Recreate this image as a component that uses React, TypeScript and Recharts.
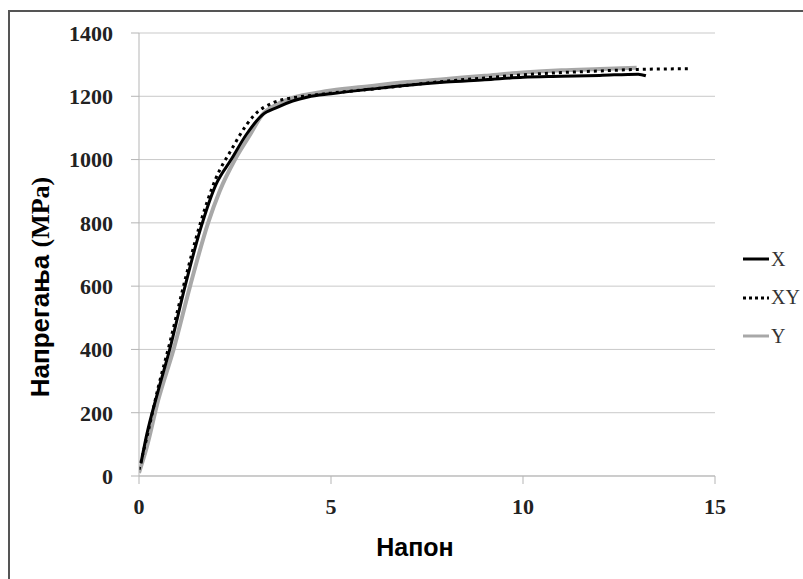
import React from "react";
import {
  LineChart,
  Line,
  XAxis,
  YAxis,
  CartesianGrid
} from "recharts";

// strain (x) / stress in MPa (y)
const xStrain = [0.05, 0.2, 0.5, 0.8, 1.2, 1.6, 2.0, 2.4, 2.8, 3.2, 3.6, 4.0, 4.4, 5, 6, 7, 8, 9, 10, 11, 12, 13, 13.2];
const xStress = [40, 130, 270, 400, 600, 780, 920, 1000, 1080, 1140, 1165, 1185, 1198, 1208, 1222, 1235, 1245, 1252, 1260, 1263, 1266, 1270, 1265];

const xyStrain = [0, 0.2, 0.5, 0.8, 1.2, 1.6, 2.0, 2.4, 2.8, 3.0, 3.5, 4.0, 4.5, 5, 6, 7, 8, 9, 10, 11, 12, 13, 14.3];
const xyStress = [20, 120, 280, 420, 620, 800, 940, 1030, 1110, 1140, 1180, 1195, 1203, 1210, 1222, 1235, 1248, 1258, 1268, 1275, 1280, 1285, 1287];

const yStrain = [0, 0.2, 0.5, 0.9, 1.33, 1.8, 2.1, 2.5, 2.9, 3.2, 3.6, 4.0, 4.5, 5, 6, 7, 8, 9, 10, 11, 12, 12.96];
const yStress = [10, 90, 240, 400, 600, 800, 900, 1000, 1080, 1140, 1175, 1195, 1208, 1218, 1232, 1245, 1255, 1265, 1275, 1282, 1286, 1290];

const xTicks = [0, 5, 10, 15];
const yTicks = [0, 200, 400, 600, 800, 1000, 1200, 1400];

const toPoints = (s: number[], v: number[]) => s.map((e, i) => ({ e, v: v[i] }));

const seriesX = toPoints(xStrain, xStress);
const seriesXY = toPoints(xyStrain, xyStress);
const seriesY = toPoints(yStrain, yStress);

const legendItems = [
  { name: "X", color: "#000", dash: undefined },
  { name: "XY", color: "#000", dash: "3 3" },
  { name: "Y", color: "#a8a8a8", dash: undefined }
];

const tickStyle = { fontFamily: "'Liberation Serif', serif", fontSize: 22, fontWeight: "bold", fill: "#222" };

function LegendBox() {
  return (
    <div
      style={{
        position: "absolute",
        left: 742,
        top: 240,
        fontFamily: "'Liberation Serif', serif",
        fontSize: 20,
        color: "#333"
      }}
    >
      {legendItems.map((it) => (
        <div key={it.name} style={{ display: "flex", alignItems: "center", height: 38.5 }}>
          <svg width={28} height={10}>
            <line x1={1} y1={5} x2={27} y2={5} stroke={it.color} strokeWidth={3} strokeDasharray={it.dash} />
          </svg>
          <span style={{ marginLeft: 1 }}>{it.name}</span>
        </div>
      ))}
    </div>
  );
}

function YTitle() {
  return (
    <text
      x={0}
      y={0}
      transform="translate(49, 287) rotate(-90)"
      textAnchor="middle"
      fontSize={26}
      fontWeight="bold"
      fill="#000"
    >
      <tspan fontFamily="'Liberation Sans', Arial, sans-serif">Напрегања </tspan>
      <tspan fontFamily="'Liberation Serif', serif">(MPa)</tspan>
    </text>
  );
}

export default function App() {
  return (
    <div
      style={{
        position: "absolute",
        left: 0,
        top: 0,
        width: 803,
        height: 579,
        background: "#fff",
        overflow: "hidden"
      }}
    >
      {/* the figure's frame: only its left and top edges are in view */}
      <svg width={803} height={579} style={{ position: "absolute", left: 0, top: 0 }}>
        <path d="M9 579 V11 H803" fill="none" stroke="#555" strokeWidth={2} />
      </svg>
      <LineChart
        width={803}
        height={579}
        margin={{ top: 33, right: 88, left: 79, bottom: 63 }}
        style={{ position: "absolute", left: 0, top: 0 }}
      >
        <CartesianGrid stroke="#c9c9c9" vertical={false} />
        <XAxis
          type="number"
          dataKey="e"
          domain={[0, 15]}
          ticks={xTicks}
          allowDataOverflow
          stroke="#b5b5b5"
          tickSize={8}
          tickMargin={14}
          tick={tickStyle}
          height={40}
          label={{
            value: "Напон",
            position: "insideBottom",
            offset: -40,
            fontFamily: "'Liberation Sans', Arial, sans-serif",
            fontSize: 25,
            fontWeight: "bold",
            fill: "#000",
            dx: -12
          }}
        />
        <YAxis
          type="number"
          dataKey="v"
          domain={[0, 1400]}
          ticks={yTicks}
          stroke="#b5b5b5"
          width={60}
          tickSize={8}
          tickMargin={18}
          tick={tickStyle}
          label={<YTitle />}
        />
        <Line
          data={seriesY}
          dataKey="v"
          name="Y"
          stroke="#a8a8a8"
          strokeWidth={4}
          dot={false}
          type="monotone"
          isAnimationActive={false}
        />
        <Line
          data={seriesX}
          dataKey="v"
          name="X"
          stroke="#000"
          strokeWidth={3}
          dot={false}
          type="monotone"
          isAnimationActive={false}
        />
        <Line
          data={seriesXY}
          dataKey="v"
          name="XY"
          stroke="#000"
          strokeWidth={3}
          strokeDasharray="3 4"
          dot={false}
          type="monotone"
          isAnimationActive={false}
        />
      </LineChart>
      <LegendBox />
    </div>
  );
}
